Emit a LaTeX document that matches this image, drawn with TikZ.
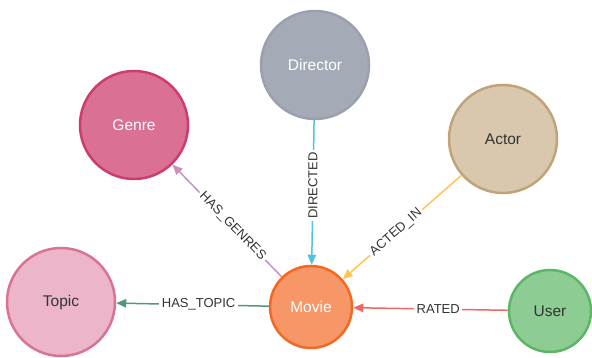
\documentclass[tikz,border=0pt]{standalone}
\usepackage{fontspec}
\setmainfont{Liberation Sans}
\usetikzlibrary{arrows.meta}
\definecolor{genreF}{HTML}{DA7194}\definecolor{genreD}{HTML}{CC3C6C}
\definecolor{dirF}{HTML}{A5ABB6}\definecolor{dirD}{HTML}{9AA1AC}
\definecolor{actF}{HTML}{D9C8AE}\definecolor{actD}{HTML}{C0A378}
\definecolor{topF}{HTML}{ECB5C9}\definecolor{topD}{HTML}{DA7298}
\definecolor{movF}{HTML}{F79767}\definecolor{movD}{HTML}{F36924}
\definecolor{usrF}{HTML}{8DCC93}\definecolor{usrD}{HTML}{5DB665}
\definecolor{cDir}{HTML}{4FC3E5}\definecolor{cAct}{HTML}{FFC454}
\definecolor{cGen}{HTML}{C990C0}\definecolor{cTop}{HTML}{569480}
\definecolor{cRat}{HTML}{F16667}\definecolor{txt}{HTML}{333333}
\tikzset{
  gnode/.style={circle,inner sep=0pt,line width=2.5pt,font=\fontsize{15.5}{16}\selectfont},
  big/.style={gnode,minimum size=108pt},
  small/.style={gnode,minimum size=82pt},
  rel/.style={line width=1.5pt,-{Triangle[length=10pt,width=8.5pt]}},
  elab/.style={fill=white,inner sep=2.5pt,text=txt,font=\fontsize{13}{13}\selectfont}
}
\begin{document}
\begin{tikzpicture}[x=1pt,y=-1pt]
\useasboundingbox (0,0) rectangle (592,358);
\node[big,fill=genreF,draw=genreD,text=white] (genre) at (134,125) {Genre};
\node[big,fill=dirF,draw=dirD,text=white] (director) at (315,65) {Director};
\node[big,fill=actF,draw=actD,text=txt] (actor) at (503,139) {Actor};
\node[big,fill=topF,draw=topD,text=txt] (topic) at (61,302) {Topic};
\node[small,fill=movF,draw=movD,text=white] (movie) at (311,307) {Movie};
\node[small,fill=usrF,draw=usrD,text=txt] (user) at (550,311) {User};
\draw[rel,draw=cDir] (director) -- node[elab,rotate=90,pos=0.45] {DIRECTED} (movie);
\draw[rel,draw=cAct] (actor) -- node[elab,sloped,pos=0.55] {ACTED\_IN} (movie);
\draw[rel,draw=cGen] (movie) -- node[elab,sloped,pos=0.45] {HAS\_GENRES} (genre);
\draw[rel,draw=cTop] (movie) -- node[elab,pos=0.46] {HAS\_TOPIC} (topic);
\draw[rel,draw=cRat] (user) -- node[elab,pos=0.45] {RATED} (movie);
\end{tikzpicture}
\end{document}
